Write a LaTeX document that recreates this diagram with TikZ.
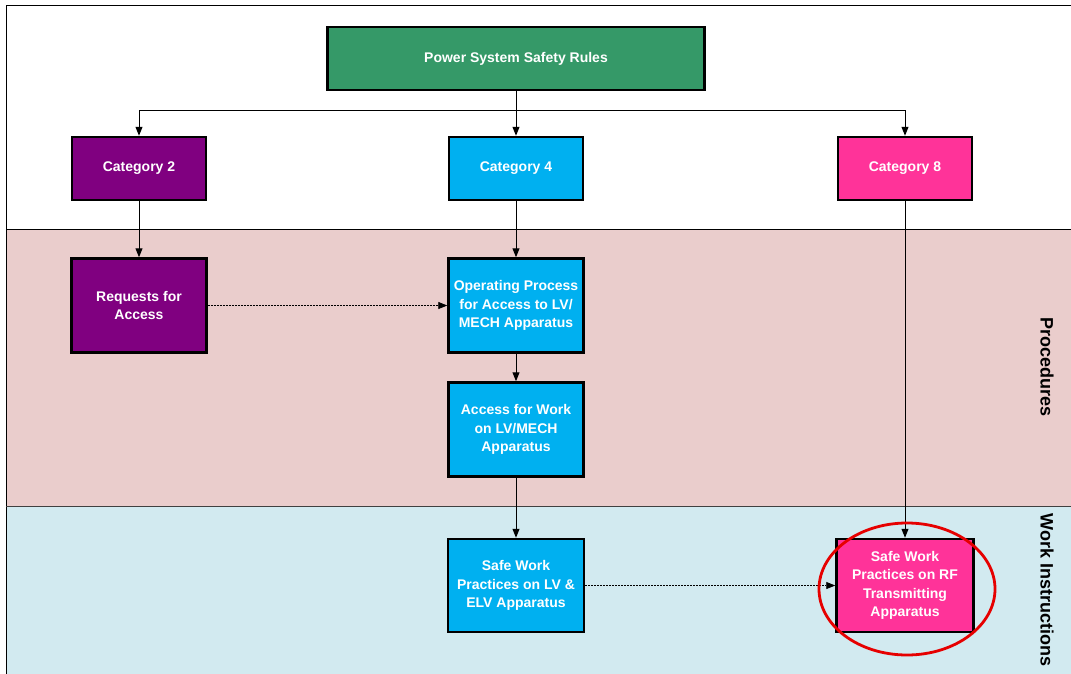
\documentclass[tikz,border=0pt]{standalone}
\usepackage{fontspec}
\setmainfont{Liberation Sans}
\usetikzlibrary{calc, arrows.meta, positioning}
\definecolor{rulegreen}{RGB}{53,153,104}
\definecolor{catpurple}{RGB}{128,0,128}
\definecolor{catcyan}{RGB}{0,176,240}
\definecolor{catpink}{RGB}{255,51,153}
\definecolor{lanepink}{RGB}{234,205,204}
\definecolor{laneblue}{RGB}{210,234,240}
\definecolor{ringred}{RGB}{230,0,0}
\tikzstyle{box} =[draw=black, line width=2.5pt, text=white, align=center, inner sep=2pt, font=\bfseries\fontsize{14}{18.5}\selectfont]
\tikzstyle{catbox} =[box, minimum width=134pt, minimum height=63pt]
\tikzstyle{procbox} =[box, minimum width=135pt, minimum height=94pt]
\tikzstyle{lanelabel} =[rotate=-90, font=\bfseries\fontsize{18}{20}\selectfont]
\tikzstyle{flow} =[-{Triangle[length=9pt,width=7pt]}, line width=1pt]
\tikzstyle{link} =[flow, line width=0.8pt, dash pattern=on 2pt off 1pt]

\begin{document}
\begin{tikzpicture}[x=1pt, y=-1pt]
        \useasboundingbox (0,0) rectangle (1071,673);

        %% Lanes
        \fill[white] (6,5) rectangle (1080,229);
        \fill[lanepink] (6,229) rectangle (1080,506);
        \fill[laneblue] (6,506) rectangle (1080,690);
        \draw[line width=1pt] (1080,5) -- (6,5) -- (6,690);
        \draw[line width=1pt] (6,229) -- (1080,229);
        \draw[line width=1pt, black!75] (6,506) -- (1080,506);
        \node[lanelabel] (proclbl) at (1047,367) {Procedures};
        \node[lanelabel] (wilbl) at (1047,590) {Work Instructions};

        % Title
        \node[box, fill=rulegreen, minimum width=377pt, minimum height=63pt] (rules) at (516,58.5) {Power System Safety Rules};

        % Categories
        \node[catbox, fill=catpurple] (cat2) at (139,168.5) {Category 2};
        \node[catbox, fill=catcyan] (cat4) at (516,168.5) {Category 4};
        \node[catbox, fill=catpink] (cat8) at (905,168.5) {Category 8};

        % Procedures
        \node[procbox, fill=catpurple] (request) at (139,305.5) {Requests for\\Access};
        \node[procbox, fill=catcyan] (oprocess) at (516,305.5) {Operating Process\\for Access to LV/\\MECH Apparatus};
        \node[procbox, fill=catcyan] (accwork) at (516,429.5) {Access for Work\\on LV/MECH\\Apparatus};

        % Work instructions
        \node[procbox, fill=catcyan, minimum width=136pt, minimum height=93pt] (safelv) at (516,585.5) {Safe Work\\Practices on LV \&\\ELV Apparatus};
        \node[procbox, fill=catpink, minimum width=137pt, minimum height=93pt] (saferf) at (905,585.5) {Safe Work\\Practices on RF\\Transmitting\\Apparatus};

        %% Arrows
        \coordinate (branch) at (rules.south |- 0,110);
        \draw[flow] (rules.south) -- (cat4.north);
        \draw[flow] (branch) -| (cat2.north);
        \draw[flow] (branch) -| (cat8.north);
        \draw[flow] (cat2.south) -- (request.north);
        \draw[flow] (cat4.south) -- (oprocess.north);
        \draw[flow] (oprocess.south) -- (accwork.north);
        \draw[flow] (accwork.south) -- (safelv.north);
        \draw[flow] (cat8.south) -- (saferf.north);
        \draw[link] (request.east) -- (oprocess.west);
        \draw[link] (safelv.east) -- (saferf.west);

        % Highlight
        \draw[ringred, line width=2.8pt] ($(saferf.center)+(2,3.5)$) ellipse [x radius=88, y radius=66];

    \end{tikzpicture}
\end{document}
